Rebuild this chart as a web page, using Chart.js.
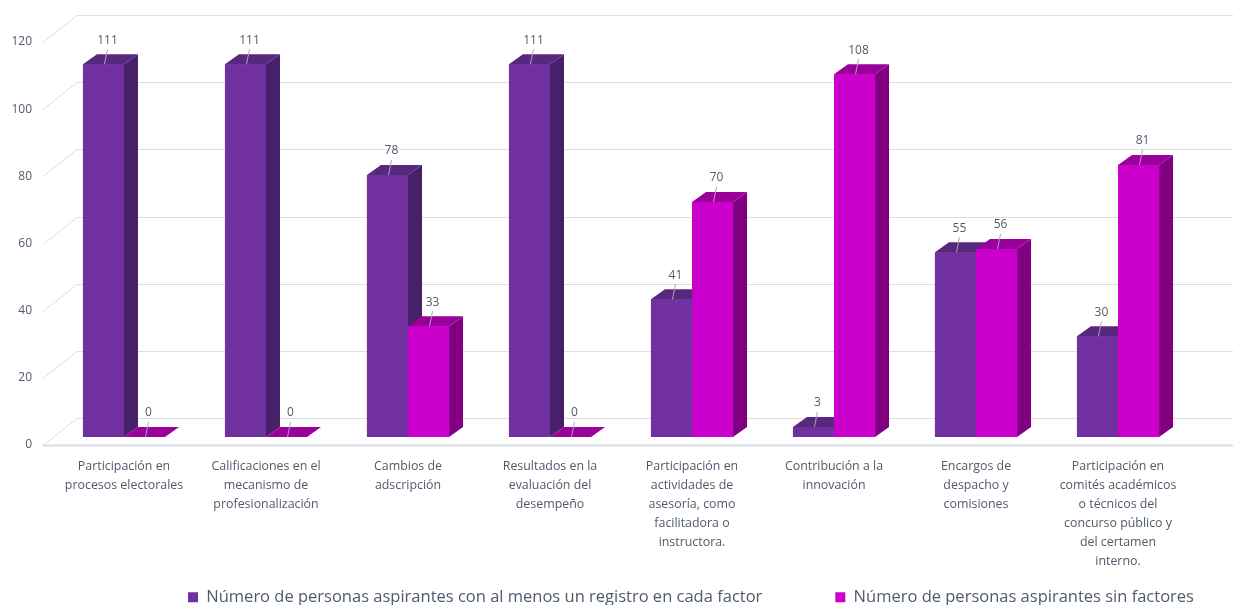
<!DOCTYPE html>
<html>
<head>
<meta charset="utf-8">
<script src="https://cdn.jsdelivr.net/npm/chart.js@4.4.1/dist/chart.umd.min.js"></script>
<style>
  html, body { margin: 0; padding: 0; background: #fff; }
  #wrap { width: 1233px; height: 605px; }
</style>
</head>
<body>
<div id="wrap"><canvas id="chart"></canvas></div>
<script>
// Datos
const categories = [
  ["Participación en", "procesos electorales"],
  ["Calificaciones en el", "mecanismo de", "profesionalización"],
  ["Cambios de", "adscripción"],
  ["Resultados en la", "evaluación del", "desempeño"],
  ["Participación en", "actividades de", "asesoría, como", "facilitadora o", "instructora."],
  ["Contribución a la", "innovación"],
  ["Encargos de", "despacho y", "comisiones"],
  ["Participación en", "comités académicos", "o técnicos del", "concurso público y", "del certamen", "interno."]
];
const conFactor = [111, 111, 78, 111, 41, 3, 55, 30];
const sinFactor = [0, 0, 33, 0, 70, 108, 56, 81];
const yTicks = [0, 20, 40, 60, 80, 100, 120];
const seriesNames = [
  "Número de personas aspirantes con al menos un registro en cada factor",
  "Número de personas aspirantes sin factores"
];

const textColor = "#4F5B6C";
const gridColor = "#DCDDE6";
const fontFamily = "'Open Sans', Lato, sans-serif";
const dx = 14, dy = 10; // profundidad de las barras

const shades = [
  { side: "#47206A", top: "#58287F" },
  { side: "#800080", top: "#9C009C" }
];

// pared del fondo y piso
const wall = {
  id: "wall",
  beforeDatasetsDraw(chart) {
    const { ctx, chartArea, scales } = chart;
    const fx = chartArea.left - 10, bx = chartArea.left + 24;
    ctx.save();
    ctx.strokeStyle = gridColor;
    ctx.lineWidth = 1;
    yTicks.forEach(v => {
      const py = Math.round(scales.y.getPixelForValue(v)) + 0.5;
      ctx.beginPath();
      ctx.moveTo(fx, py + 8);
      ctx.lineTo(bx, py - 19);
      ctx.lineTo(chart.width, py - 19);
      ctx.stroke();
    });
    const p0 = Math.round(scales.y.getPixelForValue(0)) + 0.5;
    ctx.lineWidth = 2;
    ctx.beginPath();
    ctx.moveTo(fx, p0 + 8);
    ctx.lineTo(chart.width, p0 + 8);
    ctx.stroke();
    ctx.restore();
  }
};

// caras laterales y superiores (y frente otra vez, para el orden)
const bars3d = {
  id: "bars3d",
  afterDatasetsDraw(chart) {
    const ctx = chart.ctx;
    chart.data.datasets.forEach((ds, i) => {
      const sh = shades[i];
      chart.getDatasetMeta(i).data.forEach(bar => {
        const { x, y, base, width } = bar.getProps(["x", "y", "base", "width"], true);
        const l = x - width / 2, r = x + width / 2;
        bar.draw(ctx);
        ctx.save();
        ctx.fillStyle = sh.side;
        ctx.beginPath();
        ctx.moveTo(r, y);
        ctx.lineTo(r + dx, y - dy);
        ctx.lineTo(r + dx, base - dy);
        ctx.lineTo(r, base);
        ctx.closePath();
        ctx.fill();
        ctx.fillStyle = sh.top;
        ctx.beginPath();
        ctx.moveTo(l, y);
        ctx.lineTo(l + dx, y - dy);
        ctx.lineTo(r + dx, y - dy);
        ctx.lineTo(r, y);
        ctx.closePath();
        ctx.fill();
        ctx.restore();
      });
    });

    // etiquetas de datos
    ctx.save();
    ctx.font = "12px " + fontFamily;
    ctx.fillStyle = textColor;
    ctx.textAlign = "center";
    ctx.textBaseline = "middle";
    chart.data.datasets.forEach((ds, i) => {
      chart.getDatasetMeta(i).data.forEach((bar, j) => {
        const { x, y } = bar.getProps(["x", "y"], true);
        ctx.strokeStyle = "#A6A6B0";
        ctx.lineWidth = 1;
        ctx.beginPath();
        ctx.moveTo(x + 4, y - 15);
        ctx.lineTo(x + 1, y);
        ctx.stroke();
        ctx.fillText(ds.data[j], x + 4, y - 24);
      });
    });
    ctx.restore();
  }
};

// mover la leyenda como en la imagen
const legendShift = {
  id: "legendShift",
  afterLayout(chart) {
    chart.legend.left = 691 - 700;
    chart.legend.right = 691 + 700;
    chart.legend.top = 597 - 73 - 8;
  }
};

const data = {
  labels: categories,
  datasets: [
    {
      label: seriesNames[0],
      data: conFactor,
      backgroundColor: "#7030A0",
      borderWidth: 0
    },
    {
      label: seriesNames[1],
      data: sinFactor,
      backgroundColor: "#CC00CC",
      borderWidth: 0
    }
  ]
};

const config = {
  type: "bar",
  data: data,
  plugins: [wall, bars3d, legendShift],
  options: {
    responsive: true,
    maintainAspectRatio: false,
    animation: false,
    layout: { padding: { top: 34, right: 44, left: 0, bottom: 0 } },
    datasets: {
      bar: { barPercentage: 1, categoryPercentage: 0.578 }
    },
    plugins: {
      tooltip: { enabled: false },
      legend: {
        position: "bottom",
        maxHeight: 26,
        labels: {
          boxWidth: 10,
          boxHeight: 10,
          padding: 73,
          color: textColor,
          font: { family: fontFamily, size: 16.5 }
        }
      }
    },
    scales: {
      x: {
        grid: { display: false, drawTicks: false },
        border: { display: false },
        afterFit: s => { s.height = 142; },
        ticks: {
          autoSkip: false,
          maxRotation: 0,
          padding: 20,
          color: textColor,
          font: { family: fontFamily, size: 12.4, lineHeight: "19px" }
        }
      },
      y: {
        min: 0,
        max: 120,
        grid: { display: false, drawTicks: false },
        border: { display: false },
        afterFit: s => { s.width = 53; },
        ticks: {
          stepSize: 20,
          padding: 21,
          labelOffset: 8,
          color: textColor,
          font: { family: fontFamily, size: 12 }
        }
      }
    }
  }
};

const chart3d = new Chart(document.getElementById("chart"), config);
</script>
</body>
</html>
